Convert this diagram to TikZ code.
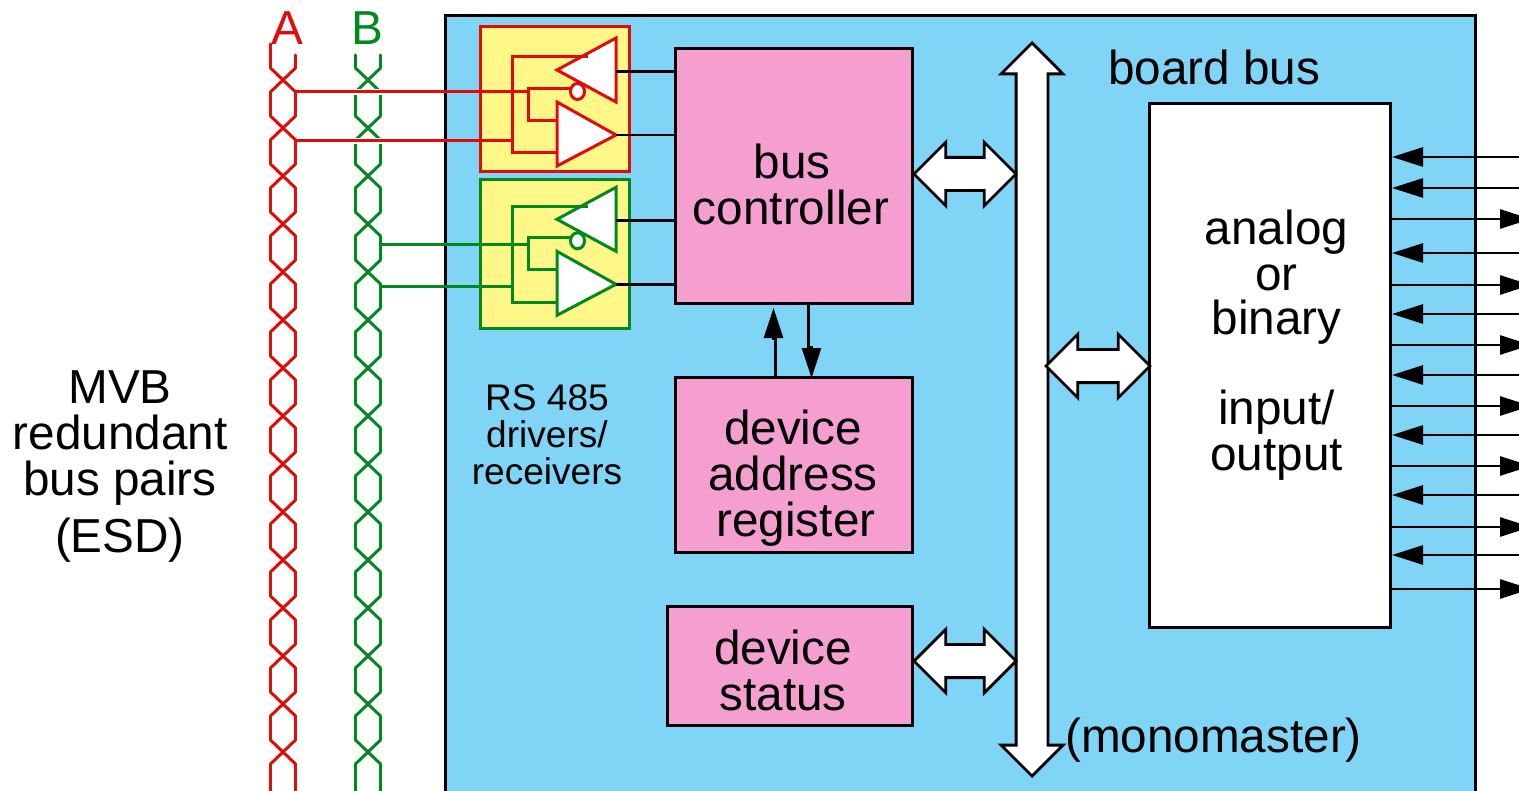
\documentclass[tikz,border=0pt]{standalone}
\usepackage{fontspec}
\setmainfont{Liberation Sans}
\usetikzlibrary{arrows.meta,shapes.arrows,shapes.geometric}
\definecolor{panel}{HTML}{80D4F6}
\definecolor{pinkbox}{HTML}{F49FD0}
\definecolor{yel}{HTML}{FFF888}
\definecolor{busA}{HTML}{E30A0A}
\definecolor{busB}{HTML}{008A1E}
\newcommand{\px}{0.75pt}
\newcommand{\rectnode}[6]{% name x1 y1 x2 y2 style
  \pgfmathsetmacro{\rw}{(#4-#2)*0.75}\pgfmathsetmacro{\rh}{(#5-#3)*0.75}
  \node[#6,minimum width=\rw pt,minimum height=\rh pt] (#1) at ({(#2+#4)/2},{(#3+#5)/2}) {};}
\newcommand{\twist}[2]{% centre x, colour
  \begin{scope}[#2,line width=3*\px,line cap=round]
  \foreach \k in {0,...,14}{
    \pgfmathsetmacro{\yc}{80+48*\k}
    \draw (#1-12.5,\yc-12) -- (#1+12.5,\yc+12);
    \draw (#1+12.5,\yc-12) -- (#1-12.5,\yc+12);
    \ifnum\k<14
      \draw (#1-12.5,\yc+12) -- (#1-12.5,\yc+36);
      \draw (#1+12.5,\yc+12) -- (#1+12.5,\yc+36);
    \fi
  }
  \draw (#1+12.5,68) -- (#1+12.5,55);
  \draw (#1-12.5,68) -- (#1-12.5,55);
  \draw (#1-12.5,764) -- (#1-12.5,795);
  \draw (#1+12.5,764) -- (#1+12.5,795);
  \end{scope}}
\newcommand{\rsblock}[5]{% prefix, colour, dy, box top, box bottom
  \begin{scope}[shift={(0,#3)},name prefix=#1-]
    \rectnode{box}{480}{#4}{629.5}{#5}{rect,draw=#2,fill=yel,line width=3*\px}
    \coordinate (drvR) at (616,71.5);
    \coordinate (rcvR) at (616,135);
    \fill[white,shift={(1.5,2)}] (557,70) -- (616,38) -- (616,102) -- cycle;
    \fill[white,shift={(-1.5,2)}] (557,102) -- (616,135) -- (557,166) -- cycle;
    \draw[#2,fill=white,line width=3*\px,line join=miter] (557,70) -- (616,38) -- (616,102) -- cycle;
    \draw[#2,fill=white,line width=3*\px,line join=miter] (557,102) -- (616,135) -- (557,166) -- cycle;
    \draw[#2,line width=3*\px] (587.5,57) -- (512,57) -- (512,153) -- (557,153);
    \draw[#2,line width=3*\px] (572,88.5) -- (528,88.5) -- (528,120.5) -- (557,120.5);
    \node[draw=#2,fill=white,line width=3*\px,ellipse,inner sep=0,minimum width=10.5pt,minimum height=12pt] (bub) at (577.5,91.5) {};
  \end{scope}}
\tikzset{
  rect/.style={rectangle,inner sep=0,outer sep=0},
  blk/.style={rect,draw=black,line width=3*\px},
  blockarrow/.style={double arrow,draw=black,fill=white,line width=2.8*\px,line join=miter,
    double arrow head extend=15.2*\px,inner xsep=0,inner ysep=15.2*\px,outer sep=0,
    double arrow tip angle=90},
  sig/.style={draw=black,line width=2.8*\px,-{Triangle[length=31*\px,width=19*\px]}},
  wire/.style={draw=black,line width=2.8*\px},
  lab/.style={inner sep=0,align=center,font=\fontsize{35.75}{34.5}\selectfont},
  labs/.style={inner sep=0,align=center,font=\fontsize{27.8}{27.7}\selectfont}
}
\begin{document}
\begin{tikzpicture}[x=0.75pt,y=-0.75pt]
\clip (0,0) rectangle (1519,791);
\fill[white] (0,0) rectangle (1519,791);
% panel
\rectnode{panel}{445}{16}{1475}{830}{blk,fill=panel}
% bus pairs
\twist{283}{busA}
\draw[busA,line width=3*\px,line cap=round] (270.5,56) -- (270.5,44);
\twist{368}{busB}
% blocks
\rsblock{r}{busA}{0}{27}{171.5}
\rsblock{g}{busB}{149.3}{30}{179}
% white breaks in B where the A wires cross
\draw[white,line width=6*\px] (352,92) -- (384,92) (352,141) -- (384,141);
\coordinate (aTop) at (295.5,92);
\coordinate (aBot) at (295.5,141);
\coordinate (bTop) at (381,245);
\coordinate (bBot) at (381,286.7);
\coordinate (rA) at (528,92);
\coordinate (rB) at (512,141);
\coordinate (gA) at (528,245);
\coordinate (gB) at (512,286.7);
\draw[busA,line width=3*\px] (aTop) -- (rA);
\draw[busA,line width=3*\px] (aBot) -- (rB);
\draw[busB,line width=3*\px] (bTop) -- (gA);
\draw[busB,line width=3*\px] (bBot) -- (gB);
% pink boxes
\rectnode{ctrl}{675}{49}{912}{304}{blk,fill=pinkbox}
\rectnode{addr}{675}{377}{912}{552}{blk,fill=pinkbox}
\rectnode{stat}{667}{606}{912}{725}{blk,fill=pinkbox}
% driver wires
\draw[wire] (r-drvR) -- (ctrl.west |- r-drvR);
\draw[wire] (r-rcvR) -- (ctrl.west |- r-rcvR);
\coordinate (gd) at (616,220.5);
\coordinate (gr) at (616,284.3);
\draw[wire] (gd) -- (ctrl.west |- gd);
\draw[wire] (gr) -- (ctrl.west |- gr);
% ctrl <-> addr
\coordinate (upS) at (775.3,378);
\coordinate (upE) at (773.5,308);
\coordinate (dnS) at (808.7,304);
\coordinate (dnE) at (811.5,378);
\draw[sig,-{Triangle[length=30*\px,width=19*\px]}] (upS) -- (775.3,339) -- (773.5,339) -- (upE);
\draw[sig,-{Triangle[length=30*\px,width=19*\px]}] (dnS) -- (808.7,347) -- (811.5,347) -- (dnE);
% bus
\node[blockarrow,rotate=-90,minimum height=733*\px,inner ysep=14.5*\px,double arrow head extend=15*\px] (bus) at (1032,409.5) {};
% IO box
\rectnode{io}{1149}{104}{1390}{627}{blk,fill=white}
% wide double arrows
\node[blockarrow,minimum height=102*\px] (a1) at (965,174) {};
\node[blockarrow,minimum height=102*\px] (a2) at (965,661) {};
\node[blockarrow,minimum height=104*\px] (a3) at (1098,366) {};
% IO arrows
\foreach \y in {157,188,253,314,375,435,495,555}{
  \coordinate (ext) at (1519,\y);
  \draw[sig] (ext) -- (1392,\y);
}
\foreach \y in {219,285,345,406,466,527,589}{
  \coordinate (st) at (io.east |- {(0,\y)});
  \draw[sig] (st) -- (1531,\y);
}
% labels
\node[inner sep=0,text=busA,font=\fontsize{35.75}{35.75}\selectfont] (labA) at (287,28) {A};
\node[inner sep=0,text=busB,font=\fontsize{35.75}{35.75}\selectfont] (labB) at (367,28) {B};
\node[lab] (tMVB) at (120,466.5) {MVB\\redundant\\bus pairs\\[7.75pt](ESD)};
\node[labs] (tRS) at (547,434.5) {RS 485\\drivers/\\receivers};
\node[lab] (tCtrl) at (791,184.5) {\hspace*{2pt}bus\\controller};
\node[lab] (tAddr) at (793,478.5) {device\\address\\\hspace*{4.5pt}register};
\node[lab] (tStat) at (783,670) {device\\status};
\node[lab] (tBoard) at (1214,67.5) {board bus};
\node[lab] (tMono) at (1213.5,740) {(monomaster)};
\node[lab] (tIO) at (1276.5,345) {analog\\or\\[-1pt]binary\\[32.5pt]input/\\output};
\end{tikzpicture}
\end{document}
